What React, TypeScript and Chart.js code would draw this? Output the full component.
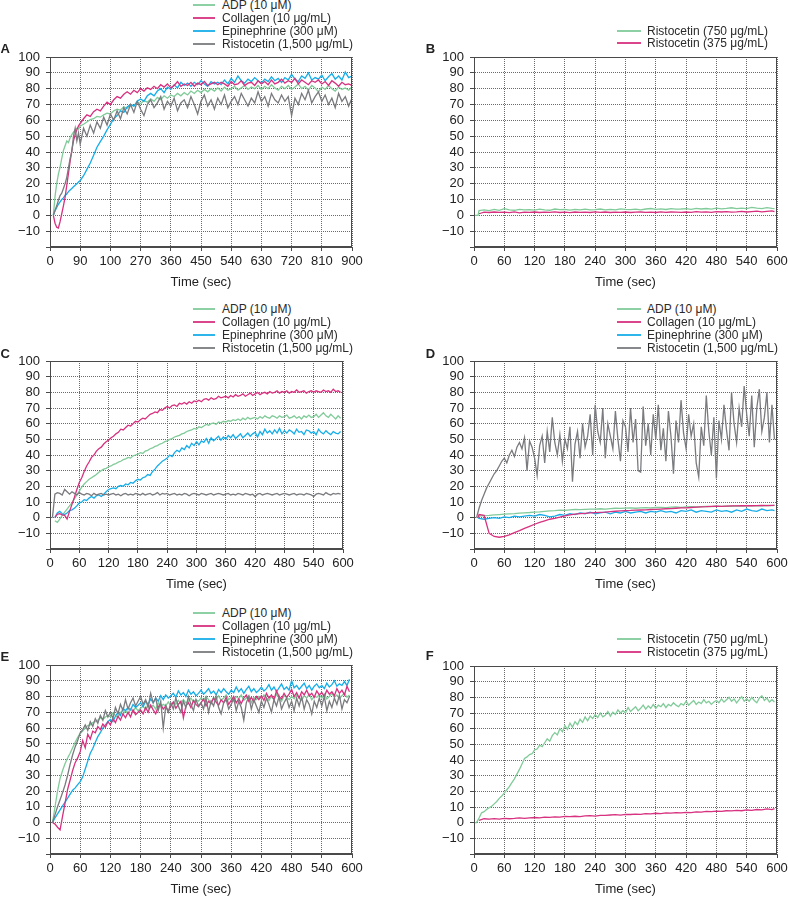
import React, { useEffect, useRef } from "react";
import { Chart, registerables } from "chart.js";

Chart.register(...registerables);

const FONT = "'Liberation Sans', Arial, Helvetica, sans-serif";

const GREEN = "#80cb99";
const MAGENTA = "#d7317f";
const BLUE = "#17ade8";
const GRAY = "#7a7b7f";

// ---------- time bases (seconds) ----------
const TIME_A = [10, 15, 20, 25, 30, 35, 40, 45, 50, 55, 60, 65, 70, 75, 80, 85, 90,
  100, 110, 120, 130, 140, 150, 160, 170, 180, 190,
  200, 210, 220, 230, 240, 250, 260, 270, 280, 290,
  300, 310, 320, 330, 340, 350, 360, 370, 380, 390,
  400, 410, 420, 430, 440, 450, 460, 470, 480, 490,
  500, 510, 520, 530, 540, 550, 560, 570, 580, 590,
  600, 610, 620, 630, 640, 650, 660, 670, 680, 690,
  700, 710, 720, 730, 740, 750, 760, 770, 780, 790,
  800, 810, 820, 830, 840, 850, 860, 870, 880, 890,
  900];

const TIME_5 = [0, 5, 10, 15, 20, 25, 30, 35, 40, 45, 50, 55,
  60, 65, 70, 75, 80, 85, 90, 95, 100, 105, 110, 115,
  120, 125, 130, 135, 140, 145, 150, 155, 160, 165, 170, 175,
  180, 185, 190, 195, 200, 205, 210, 215, 220, 225, 230, 235,
  240, 245, 250, 255, 260, 265, 270, 275, 280, 285, 290, 295,
  300, 305, 310, 315, 320, 325, 330, 335, 340, 345, 350, 355,
  360, 365, 370, 375, 380, 385, 390, 395, 400, 405, 410, 415,
  420, 425, 430, 435, 440, 445, 450, 455, 460, 465, 470, 475,
  480, 485, 490, 495, 500, 505, 510, 515, 520, 525, 530, 535,
  540, 545, 550, 555, 560, 565, 570, 575, 580, 585, 590, 595];

const TIME_10 = [0, 8, 10,
  20, 30, 40, 50, 60, 70, 80, 90, 100, 110,
  120, 130, 140, 150, 160, 170, 180, 190, 200, 210,
  220, 230, 240, 250, 260, 270, 280, 290, 300, 310,
  320, 330, 340, 350, 360, 370, 380, 390, 400, 410,
  420, 430, 440, 450, 460, 470, 480, 490, 500, 510,
  520, 530, 540, 550, 560, 570, 580, 590,
  595];

// ---------- tick labels ----------
const X_TICKS_A = [0, 90, 180, 270, 360, 450, 540, 630, 720, 810, 900];
const X_LABELS_A = ["0", "90", "100", "270", "360", "450", "540", "630", "720", "810", "900"];
const X_TICKS_600 = [0, 60, 120, 180, 240, 300, 360, 420, 480, 540, 600];
const X_LABELS_600 = ["0", "60", "120", "180", "240", "300", "360", "420", "480", "540", "600"];
const Y_TICKS = [-20, -10, 0, 10, 20, 30, 40, 50, 60, 70, 80, 90, 100];
const Y_LABELS = ["", "\u221210", "0", "10", "20", "30", "40", "50", "60", "70", "80", "90", "100"];

// ---------- series labels ----------
const LBL_ADP = "ADP (10 \u03bcM)";
const LBL_COL = "Collagen (10 \u03bcg/mL)";
const LBL_EPI = "Epinephrine (300 \u03bcM)";
const LBL_RIS = "Ristocetin (1,500 \u03bcg/mL)";
const LBL_R750 = "Ristocetin (750 \u03bcg/mL)";
const LBL_R375 = "Ristocetin (375 \u03bcg/mL)";

// ---------- Panel A (TIME_A) ----------
const A_ADP = [0, 12, 20, 26, 30.5, 36, 41, 44, 47, 46, 49, 51, 52.5, 54, 55, 54.5, 56.5,
  57.5, 59, 60.5, 61, 62.5, 62, 63.5, 64.5, 64, 66,
  67, 66.5, 68.5, 67.5, 70, 69, 71.5, 70.5, 72.5, 71.5,
  73.5, 72, 74.5, 73, 75.5, 74, 76, 75, 77, 75.5,
  77.5, 76, 78.5, 77, 79, 77.5, 79.5, 78, 80, 78.5,
  80.5, 78.5, 81, 79, 80, 81.5, 79, 80.5, 82, 79.5,
  81, 80, 82, 79.5, 81.5, 80, 82.5, 80.5, 79, 81.5,
  80, 82, 79.5, 81, 83, 80, 81.5, 79, 82, 80.5,
  78, 81, 79.5, 82, 80, 78.5, 81, 79.5, 80.5, 79,
  81];
const A_COL = [0, -5, -7.5, -8, -4, 1, 6, 11.5, 19, 26.5, 34, 41, 47, 51, 54, 56.5, 58,
  61, 63.5, 62.5, 65.5, 67, 66, 69, 71.5, 70, 73,
  75, 74, 76.5, 78, 76.5, 79, 77.5, 80, 78.5, 80.5,
  79.5, 81.5, 80, 82.5, 81, 83, 80.5, 82, 84.5, 81.5,
  83, 82, 84, 81.5, 83.5, 82.5, 84.5, 82, 83, 84,
  82.5, 84, 83, 81.5, 84.5, 82.5, 83, 85, 82, 83.5,
  84, 82, 85, 83, 84.5, 82.5, 85.5, 83, 84, 86,
  83.5, 85, 84, 86.5, 83, 85.5, 84, 82.5, 85, 84,
  85.5, 83, 84.5, 82, 85, 83.5, 81.5, 84, 82.5, 83,
  82];
const A_EPI = [0, 3, 5, 7, 8.5, 10, 11, 12.5, 13.5, 15, 16, 17, 18, 19, 20, 21, 22,
  25, 29, 33, 38, 43, 46.5, 50, 54, 57.5, 61,
  63, 66, 65, 68.5, 70, 69, 72, 73.5, 72, 75.5,
  77, 75.5, 78.5, 80, 77.5, 81, 79.5, 82.5, 80.5, 84,
  82, 83.5, 81.5, 84, 82.5, 85, 83, 81.5, 84.5, 83,
  84, 82.5, 85.5, 83, 86.5, 84, 88, 85, 83.5, 86,
  84.5, 87, 85, 83.5, 86, 84.5, 87.5, 85, 86.5, 84,
  87, 85.5, 89, 86, 84.5, 88, 86.5, 90, 85.5, 87,
  86, 88.5, 85, 87.5, 89.5, 86, 88, 85.5, 90.5, 87,
  88];
const A_RIS = [0, 3, 6, 9.5, 12.5, 14, 17, 20, 24, 30, 36, 40, 50, 55, 47, 52, 45,
  55, 50, 57, 52, 59, 55, 62, 57, 64, 60,
  66, 61, 68, 64, 70, 65, 72, 67, 63, 70,
  73, 68, 71, 75, 67, 72, 69, 74, 66, 71,
  73, 68, 75, 70, 64, 72, 76, 69, 73, 67,
  74, 70, 76, 68, 72, 75, 70, 77, 73, 69,
  74, 71, 78, 72, 75, 69, 77, 73, 71, 76,
  72, 75, 63, 74, 70, 77, 73, 79, 71, 75,
  78, 72, 76, 70, 74, 68, 77, 72, 75, 69,
  74];

// ---------- Panel B (TIME_10) ----------
const B_R750 = [0, 0, 3,
  3.5, 3, 3.8, 3.2, 4.2, 3.5, 3.2, 3.8, 3.4, 3.6,
  3.3, 3.9, 3.5, 3.2, 4, 3.6, 3.8, 3.3, 3.7, 3.5,
  3.9, 3.4, 3.6, 4, 3.5, 3.8, 3.4, 4.1, 3.7, 3.6,
  3.9, 3.5, 4, 4.3, 3.8, 4.1, 3.7, 4.2, 3.9, 4,
  4.2, 3.8, 4.4, 4, 4.3, 3.9, 4.5, 4.1, 4.4, 4.8,
  4.3, 4.6, 4.2, 5, 4.5, 4.3, 4.9, 4.4,
  4.2];
const B_R375 = [null, null, 1,
  2, 1.8, 2.1, 1.9, 2, 1.7, 2.2, 1.5, 2, 1.9,
  2.1, 1.8, 2, 1.9, 2.2, 1.8, 2, 1.7, 2.1, 1.9,
  2, 1.8, 2.2, 1.9, 2.1, 1.8, 2, 1.9, 2.1, 1.8,
  2, 2.1, 1.9, 2, 1.8, 2.2, 1.9, 2.1, 2, 1.9,
  2.1, 1.9, 2.3, 2, 2.2, 1.9, 2.4, 2.1, 2.3, 2,
  2.2, 2.5, 2.1, 2.4, 2.6, 2.2, 2.5, 2.8,
  2.3];

// ---------- Panel C (TIME_5) ----------
const C_ADP = [null, null, -2, -3, -1, 1.5, 3.5, 5.5, 7.5, 9.5, 12, 14.5,
  17, 19.5, 21.5, 23, 24.5, 25.5, 26.5, 27.5, 29, 30, 31, 31.5,
  32.5, 33, 34, 34.5, 35.5, 36, 37, 37.5, 38.5, 38, 39.5, 40,
  40.5, 41.5, 41, 42.5, 43, 44, 44.5, 45.5, 46, 47, 47.5, 48.5,
  49, 50, 50.5, 51.5, 52, 52.5, 53.5, 54, 55, 55.5, 56, 57,
  56.5, 58, 57.5, 58.5, 59.5, 59, 60, 60.5, 59.5, 61, 60.5, 61.5,
  61, 62, 61.5, 62.5, 62, 63, 62, 63.5, 62.5, 64, 63, 63.5,
  64, 63, 64.5, 63.5, 65, 64, 63.5, 65, 64.5, 63.5, 65, 64,
  64.5, 65.5, 63.5, 64, 65, 63.5, 64.5, 63, 65, 64, 65.5, 64,
  64.5, 66, 64, 65.5, 67, 65, 64, 66, 64.5, 63, 65, 63.5];
const C_COL = [null, null, 0, 2.2, 2.5, 1.8, 1.5, -0.8, 4, 8.5, 13, 18,
  22.5, 25.5, 29.5, 33, 35.5, 38.5, 40, 42.5, 44, 45, 47, 48.5,
  49.5, 51, 52, 53.5, 54.5, 56.5, 56, 57.5, 59, 58.5, 60, 61.5,
  61, 62.5, 63.5, 63, 64.5, 66, 66.5, 67.5, 67, 69, 68.5, 70,
  71, 70, 71.5, 72, 71, 73, 72.5, 73.5, 72.5, 74, 73, 74.5,
  74, 75, 74, 75.5, 76, 75, 76.5, 75.5, 76, 77.5, 76.5, 77,
  77.5, 76.5, 78, 77, 78.5, 77.5, 78, 79, 77.5, 78.5, 79.5, 78,
  79, 80, 78.5, 79.5, 80, 79, 80.5, 79.5, 80, 81, 79.5, 80.5,
  80, 81, 79.5, 80.5, 80, 81.5, 80, 80.5, 81, 79.5, 80.5, 81,
  80, 81, 80.5, 80, 81.5, 80.5, 81, 80, 82, 80.5, 81, 80];
const C_EPI = [null, null, 0, 3, 4, 2.5, 2, 3, 4.5, 5, 6, 7.5,
  9.5, 10, 11.5, 11, 12.5, 13.5, 12.5, 14, 14.5, 13.5, 15, 16.5,
  18, 18.5, 19, 18.5, 20, 20.5, 20, 21.5, 21, 22.5, 22, 23.5,
  24.5, 24, 25.5, 26, 27.5, 27, 29.5, 31, 33, 34.5, 36, 37,
  38, 40, 39, 41.5, 43, 42, 44.5, 43.5, 46, 44.5, 47.5, 46,
  48.5, 46.5, 49, 48, 50.5, 47.5, 51, 49, 50.5, 52, 49.5, 51.5,
  50, 52.5, 51, 53, 50.5, 52, 53.5, 51, 52.5, 54, 52, 53.5,
  54.5, 51.5, 55, 53, 56.5, 54, 55.5, 53.5, 56, 54, 57, 53.5,
  55.5, 54, 56, 55, 53.5, 56.5, 54.5, 55, 53, 56, 55.5, 54,
  55, 53, 56.5, 54.5, 53.5, 55.5, 54, 53, 55, 54, 53.5, 55];
const C_RIS = [null, 0, 15, 16, 15.5, 14.5, 18, 16.5, 15, 16.5, 15.5, 14.5,
  16, 15, 14.5, 15.5, 15, 14, 15.5, 14.5, 15, 15.5, 14.5, 15,
  14.5, 15, 15.5, 14.5, 15, 14, 15, 15.5, 14.5, 15, 14.5, 15.5,
  15, 14.5, 15.5, 14.5, 15, 15.5, 14.5, 15, 16, 14.5, 15.5, 15,
  15.5, 14.5, 15, 15.5, 14.5, 15, 14.5, 15.5, 15, 14, 15, 15.5,
  15, 14.5, 15.5, 15, 14.5, 15, 15.5, 14.5, 15, 15.5, 15, 14.5,
  15, 15.5, 14.5, 15, 14.5, 15.5, 15, 14.5, 15.5, 15, 14.5, 15,
  13.5, 15, 15.5, 14.5, 15, 15.5, 15, 14.5, 15, 15.5, 14.5, 15,
  15.5, 15, 14.5, 15, 15.5, 14.5, 15, 15, 14.5, 15.5, 15, 14.5,
  13.5, 15, 15.5, 15, 14.5, 16, 15, 14.5, 15.5, 15, 15.5, 15];

// ---------- Panel D ----------
const D_ADP = [null, 0, 1,
  1.3, 1.5, 1.8, 2, 2.2, 2.4, 2.6, 2.9, 3.1, 3.3,
  3.6, 3.7, 4, 4.3, 4.5, 4.8, 4.6, 5, 5.2, 5.1,
  5.3, 5.5, 5.4, 5.7, 5.5, 5.8, 6, 5.9, 6.1, 6.2,
  6, 6.3, 6.4, 6.2, 6.5, 6.6, 6.4, 6.7, 6.8, 6.6,
  6.9, 7, 6.8, 7.1, 7.2, 7, 7.3, 7.2, 7.4, 7.3,
  7.5, 7.4, 7.6, 7.5, 7.7, 7.6, 7.8, 7.7,
  7.8];
const D_COL = [null, 0, 2,
  1.5, -10, -12, -12.5, -12, -11, -9.5, -8.3, -6.8, -5.5,
  -4.2, -3, -2, -1, -0.5, 0.3, 1.2, 1.8, 2.3, 2.6,
  2.8, 3, 3.2, 3.4, 3.6, 3.9, 4.1, 4.3, 4.5, 4.6,
  4.8, 4.9, 5, 5.2, 5.3, 5.5, 5.7, 5.8, 6, 6.2,
  6.3, 6.5, 6.7, 6.9, 7, 7.2, 7.3, 7.2, 7.4, 7.5,
  7.5, 7.6, 7.7, 7.6, 7.7, 7.8, 7.7, 7.8,
  7.8];
const D_EPI = [null, 0, -0.5,
  -1, -0.5, 0, -0.5, 0.5, 0, 1, 0.5, 1, 1.5,
  1, 2, 1.5, 0.5, 1, 2, 1.5, 2.5, 2, 3,
  2.5, 3.5, 2.5, 3, 3.5, 2.5, 3.5, 3, 4, 3,
  3.5, 4, 3, 4, 3.5, 4.5, 3.5, 4, 3, 4.5,
  4, 5, 3.5, 4.5, 4, 3.5, 5, 4, 4.5, 3.5,
  5, 4, 5.5, 4.5, 4, 5.5, 4.5, 5,
  4.5];
const D_RIS = [null, 0, 6, 11, 15, 19, 22, 25, 28, 30, 33, 36,
  38, 35, 40, 43, 39, 45, 48, 44, 51, 30, 49, 45,
  38, 27, 46, 52, 35, 55, 42, 64, 48, 40, 53, 36,
  50, 44, 58, 23, 47, 55, 38, 60, 45, 52, 66, 40,
  72, 55, 48, 70, 38, 60, 52, 44, 68, 50, 36, 62,
  58, 42, 70, 48, 63, 30, 29, 71, 46, 60, 40, 66,
  50, 72, 43, 57, 36, 68, 52, 28, 62, 48, 75, 54,
  44, 66, 52, 60, 35, 26, 58, 46, 78, 55, 40, 64,
  25, 62, 50, 72, 56, 43, 80, 60, 48, 70, 58, 84,
  66, 52, 78, 45, 70, 82, 55, 64, 80, 48, 72, 50];

// ---------- Panel E (TIME_5) ----------
const E_ADP = [null, 0, 10, 20, 28, 33, 37.5, 41, 44, 47.5, 51, 54,
  56.5, 58, 60, 61.5, 62, 63.5, 64, 65, 66.5, 65.5, 67, 68,
  67, 69.5, 68, 66.5, 70, 68.5, 71, 69, 72, 70.5, 73, 71,
  72.5, 74, 71.5, 75, 73, 74.5, 72, 76, 73.5, 75, 74, 76.5,
  74, 76, 75, 77.5, 75.5, 78, 76, 77, 79, 76.5, 78, 77,
  79, 77.5, 80, 78, 76.5, 79.5, 78, 80.5, 77.5, 79, 81, 78,
  79.5, 77, 80, 78.5, 81, 77.5, 79, 80.5, 76, 79.5, 78, 80,
  78.5, 81, 79, 77.5, 80, 78, 81.5, 79, 77, 80.5, 79.5, 78,
  80, 78.5, 81, 79, 77.5, 80.5, 79, 81.5, 78, 80, 79.5, 81,
  79, 81.5, 78.5, 80, 82, 79.5, 81, 78.5, 80.5, 82, 79.5, 81];
const E_COL = [null, 0, -1, -3, -4.7, 4, 12.5, 21, 27, 33, 38, 41,
  45, 52, 47.5, 56, 53, 58, 57, 61, 59, 62.5, 60.5, 64,
  62, 66, 63.5, 67.5, 65, 69, 66.5, 70, 67, 71.5, 68.5, 70,
  71.5, 69, 73, 70, 74.5, 71.5, 69, 73.5, 75, 72, 74, 70.5,
  74, 76.5, 72.5, 75, 77, 66.5, 74, 76, 73, 77.5, 75, 73.5,
  76, 78.5, 74, 77, 75.5, 79, 76.5, 74.5, 78, 76, 79.5, 75,
  77.5, 80, 76, 78.5, 75.5, 79, 81, 77, 79.5, 76.5, 80, 78,
  80.5, 77.5, 82, 79, 81, 78, 83.5, 80, 78.5, 82, 79.5, 81.5,
  84.5, 80, 82.5, 79, 83, 81, 84, 80.5, 82, 79.5, 83.5, 81,
  82.5, 80, 84, 81.5, 83, 80.5, 85, 82, 84, 81, 86.5, 83];
const E_EPI = [null, 0, 3, 5.5, 8, 10.5, 13, 15.5, 18, 20.5, 22, 24,
  26, 29, 34, 39, 44, 47, 51, 54.5, 57, 60, 62, 64,
  65.5, 64, 67.5, 70, 68, 72.5, 71, 73, 71.5, 75, 73, 74.5,
  76, 73.5, 77, 75, 78.5, 76, 79, 77, 80.5, 78, 81, 79,
  80.5, 82, 79.5, 83.5, 81, 82.5, 80, 84, 81.5, 83, 80.5, 82,
  84, 81.5, 83, 85, 82, 83.5, 81, 84.5, 82.5, 85, 83, 81.5,
  84, 82.5, 86, 83, 85, 82, 84.5, 86.5, 83, 85, 82.5, 84,
  86, 83.5, 85, 87.5, 84, 86, 83, 85.5, 88, 84.5, 86, 84,
  90, 85.5, 87, 84.5, 86.5, 88.5, 85, 87, 84, 86.5, 88, 85.5,
  87, 85, 88.5, 86, 87.5, 90, 86.5, 88, 87, 89.5, 87, 91];
const E_RIS = [null, 0, 5, 10, 14.5, 19, 24, 30, 37, 43, 48, 52,
  57, 59, 62, 58.5, 64, 61, 66, 63, 68, 65, 71, 67,
  70, 66, 73, 69, 75, 71, 78, 72, 76, 79, 74, 77,
  80, 75, 78, 73, 82, 76, 79, 71, 77, 60, 74, 70,
  76, 72, 79, 74, 70, 77, 73, 80, 75, 71, 78, 74,
  76, 72, 79, 70, 77, 74, 80, 73, 69, 76, 78, 72,
  75, 79, 71, 77, 73, 65, 76, 80, 72, 78, 74, 70,
  77, 73, 79, 75, 70, 78, 74, 80, 72, 76, 79, 73,
  77, 71, 79, 74, 80, 72, 78, 75, 69, 77, 73, 79,
  74, 80, 71, 77, 73, 79, 75, 81, 72, 78, 76, 80];

// ---------- Panel F ----------
const F_R750 = [0, 0, 3, 6.3, 7, 8.4, 9.5, 10.5, 12, 13.5, 15.5, 17,
  19, 21, 23, 25.5, 28, 31, 34, 37.5, 41, 42, 43.5, 44,
  46.5, 47, 49.5, 48.5, 51, 53.5, 52, 55.5, 57.5, 56, 60, 58,
  62, 59.5, 63.5, 61, 64.5, 62.5, 66, 64, 67.5, 65, 68, 66.5,
  69, 67, 70, 67.5, 68.5, 71, 68, 70.5, 69, 72, 70, 71.5,
  70, 73.5, 71, 72.5, 74, 71.5, 73, 75, 72.5, 74.5, 73, 75.5,
  73, 75, 74, 76, 73.5, 75.5, 74.5, 76.5, 75, 74, 76, 75,
  77.5, 75, 76.5, 78, 75.5, 77, 76, 78.5, 76.5, 77.5, 75.5, 77,
  78, 76.5, 79, 77, 78.5, 80, 77.5, 79, 76.5, 78.5, 80.5, 77.5,
  79, 77.5, 80, 78, 76.5, 79.5, 81, 78, 79.5, 77, 78.5, 77];
const F_R375 = [null, null, 1.5,
  2.5, 2.2, 2.6, 2.3, 2.8, 2.5, 2.7, 3, 2.8, 3.1,
  3.3, 3.1, 3.5, 3.4, 3.7, 3.5, 4, 3.8, 4.1, 3.9,
  4.3, 4.5, 4.2, 4.7, 4.6, 4.9, 5.1, 4.8, 5.3, 5.2,
  5.5, 5.3, 5.8, 5.6, 6, 5.8, 6.2, 6.1, 6.4, 6.2,
  6.6, 6.4, 6.9, 6.7, 7.2, 7, 7.4, 7.2, 7.6, 7.5,
  7.8, 7.6, 8.1, 7.9, 8.4, 8.2, 8.8, 8.3,
  9];

// ---------- layout constants ----------
const PAD_L = 50;
const PAD_T = 10;
const PAD_R = 24;
const X_AXIS_H = 46;

type Series = {
  label: string;
  color: string;
  times: number[];
  values: (number | null)[];
  order: number;
};

type PanelCfg = {
  letter: string;
  L: number; T: number; R: number; B: number;
  xTicks: number[];
  xLabels: string[];
  letterX: number;
  letterY: number;
  legendLineX: number;
  legendLineW: number;
  legendTextX: number;
  legendRows: number[];
  series: Series[];
};

const FOUR = (tA: number[], adp: any[], col: any[], epi: any[], ris: any[]): Series[] => [
  { label: LBL_ADP, color: GREEN, times: tA, values: adp, order: 4 },
  { label: LBL_COL, color: MAGENTA, times: tA, values: col, order: 2 },
  { label: LBL_EPI, color: BLUE, times: tA, values: epi, order: 3 },
  { label: LBL_RIS, color: GRAY, times: tA, values: ris, order: 1 },
];

const PANELS: PanelCfg[] = [
  {
    letter: "A", L: 50, T: 57, R: 352, B: 247,
    xTicks: X_TICKS_A, xLabels: X_LABELS_A,
    letterX: 0.5, letterY: 48.7,
    legendLineX: 193, legendLineW: 22, legendTextX: 222,
    legendRows: [4.5, 17.7, 31, 44.2],
    series: FOUR(TIME_A, A_ADP, A_COL, A_EPI, A_RIS),
  },
  {
    letter: "B", L: 474, T: 57, R: 777, B: 247,
    xTicks: X_TICKS_600, xLabels: X_LABELS_600,
    letterX: 425.7, letterY: 48.5,
    legendLineX: 617, legendLineW: 24, legendTextX: 647,
    legendRows: [31, 43.3],
    series: [
      { label: LBL_R750, color: GREEN, times: TIME_10, values: B_R750, order: 2 },
      { label: LBL_R375, color: MAGENTA, times: TIME_10, values: B_R375, order: 1 },
    ],
  },
  {
    letter: "C", L: 50, T: 361, R: 343, B: 549,
    xTicks: X_TICKS_600, xLabels: X_LABELS_600,
    letterX: 0.5, letterY: 353,
    legendLineX: 193, legendLineW: 22, legendTextX: 222,
    legendRows: [309.3, 322.3, 335, 348.3],
    series: FOUR(TIME_5, C_ADP, C_COL, C_EPI, C_RIS),
  },
  {
    letter: "D", L: 474, T: 361, R: 777, B: 549,
    xTicks: X_TICKS_600, xLabels: X_LABELS_600,
    letterX: 425.7, letterY: 353.5,
    legendLineX: 617, legendLineW: 24, legendTextX: 647,
    legendRows: [309.3, 322.3, 335, 348.3],
    series: [
      { label: LBL_ADP, color: GREEN, times: TIME_10, values: D_ADP, order: 4 },
      { label: LBL_COL, color: MAGENTA, times: TIME_10, values: D_COL, order: 2 },
      { label: LBL_EPI, color: BLUE, times: TIME_10, values: D_EPI, order: 3 },
      { label: LBL_RIS, color: GRAY, times: TIME_5, values: D_RIS, order: 1 },
    ],
  },
  {
    letter: "E", L: 50, T: 665, R: 352, B: 854,
    xTicks: X_TICKS_600, xLabels: X_LABELS_600,
    letterX: 0.5, letterY: 656.2,
    legendLineX: 193, legendLineW: 22, legendTextX: 222,
    legendRows: [612.7, 625.7, 638.7, 651.7],
    series: FOUR(TIME_5, E_ADP, E_COL, E_EPI, E_RIS),
  },
  {
    letter: "F", L: 474, T: 666, R: 777, B: 854,
    xTicks: X_TICKS_600, xLabels: X_LABELS_600,
    letterX: 425.7, letterY: 655.7,
    legendLineX: 617, legendLineW: 24, legendTextX: 647,
    legendRows: [639, 651.7],
    series: [
      { label: LBL_R750, color: GREEN, times: TIME_5, values: F_R750, order: 2 },
      { label: LBL_R375, color: MAGENTA, times: TIME_10, values: F_R375, order: 1 },
    ],
  },
];

function zip(times: number[], values: (number | null)[]) {
  const n = Math.min(times.length, values.length);
  const out: { x: number; y: number | null }[] = [];
  for (let i = 0; i < n; i++) out.push({ x: times[i], y: values[i] });
  return out;
}

const framePlugin = {
  id: "frame",
  afterDatasetsDraw(chart: any) {
    const { ctx, chartArea } = chart;
    const l = Math.round(chartArea.left) + 0.5;
    const t = Math.round(chartArea.top) + 0.5;
    const r = Math.round(chartArea.right) - 0.5;
    const b = Math.round(chartArea.bottom) - 0.5;
    ctx.save();
    ctx.strokeStyle = "#4a4a4a";
    ctx.lineWidth = 1;
    ctx.setLineDash([]);
    ctx.strokeRect(l, t, r - l, b - t);
    ctx.restore();
  },
};

function Panel({ cfg }: { cfg: PanelCfg }) {
  const ref = useRef<HTMLCanvasElement | null>(null);
  const w = cfg.R - cfg.L + PAD_L + PAD_R;
  const h = cfg.B - cfg.T + PAD_T + X_AXIS_H;

  useEffect(() => {
    if (!ref.current) return;
    const chart = new Chart(ref.current, {
      type: "line",
      data: {
        datasets: cfg.series.map((s) => ({
          label: s.label,
          data: zip(s.times, s.values),
          borderColor: s.color,
          backgroundColor: s.color,
          borderWidth: 1.3,
          pointRadius: 0,
          tension: 0,
          fill: false,
          spanGaps: false,
          order: s.order,
        })),
      } as any,
      options: {
        animation: false,
        responsive: false,
        devicePixelRatio: 1,
        events: [],
        layout: { padding: { left: 0, top: PAD_T, right: PAD_R, bottom: 0 } },
        plugins: {
          legend: { display: false },
          tooltip: { enabled: false },
          title: { display: false },
        },
        scales: {
          x: {
            type: "linear",
            min: 0,
            max: cfg.xTicks[cfg.xTicks.length - 1],
            afterBuildTicks: (scale: any) => {
              scale.ticks = cfg.xTicks.map((v) => ({ value: v }));
            },
            afterFit: (scale: any) => {
              scale.height = X_AXIS_H;
              scale.paddingLeft = 0;
              scale.paddingRight = 0;
            },
            ticks: {
              autoSkip: false,
              maxRotation: 0,
              padding: 3,
              color: "#222",
              font: { family: FONT, size: 13 },
              callback: (_v: any, i: number) => cfg.xLabels[i],
            },
            grid: {
              color: "#6a6a6a",
              lineWidth: 1,
              drawTicks: true,
              tickLength: 4,
              tickColor: "#4a4a4a",
              tickBorderDash: [],
            },
            border: { display: true, color: "#4a4a4a", width: 1, dash: [1, 1] },
            title: {
              display: true,
              text: "Time (sec)",
              color: "#222",
              font: { family: FONT, size: 13 },
              padding: { top: 0, bottom: 2.5 },
            },
          },
          y: {
            type: "linear",
            min: -20,
            max: 100,
            afterBuildTicks: (scale: any) => {
              scale.ticks = Y_TICKS.map((v) => ({ value: v }));
            },
            afterFit: (scale: any) => {
              scale.width = PAD_L;
              scale.paddingTop = 0;
              scale.paddingBottom = 0;
            },
            ticks: {
              autoSkip: false,
              padding: 6,
              color: "#222",
              font: { family: FONT, size: 13 },
              callback: (_v: any, i: number) => Y_LABELS[i],
            },
            grid: {
              color: "#6a6a6a",
              lineWidth: 1,
              drawTicks: true,
              tickLength: 4,
              tickColor: "#4a4a4a",
              tickBorderDash: [],
            },
            border: { display: true, color: "#4a4a4a", width: 1, dash: [1, 1] },
          },
        },
      } as any,
      plugins: [framePlugin],
    });
    return () => chart.destroy();
  }, [cfg]);

  const LEG = 12;
  const LET = 13;
  return (
    <>
      <canvas
        ref={ref}
        width={w}
        height={h}
        style={{ position: "absolute", left: cfg.L - PAD_L, top: cfg.T - PAD_T, width: w, height: h }}
      />
      <div
        style={{
          position: "absolute",
          left: cfg.letterX,
          top: cfg.letterY - 0.4885 * LET,
          fontFamily: FONT,
          fontWeight: "bold",
          fontSize: LET,
          lineHeight: LET + "px",
          color: "#222",
          whiteSpace: "nowrap",
        }}
      >
        {cfg.letter}
      </div>
      {cfg.series.map((s, i) => (
        <React.Fragment key={s.label}>
          <div
            style={{
              position: "absolute",
              left: cfg.legendLineX,
              top: Math.round(cfg.legendRows[i] - 1),
              width: cfg.legendLineW,
              height: 2,
              background: s.color,
              opacity: 0.9,
            }}
          />
          <div
            style={{
              position: "absolute",
              left: cfg.legendTextX,
              top: cfg.legendRows[i] - 0.4885 * LEG,
              fontFamily: FONT,
              fontSize: LEG,
              lineHeight: LEG + "px",
              color: "#2a2a2a",
              whiteSpace: "nowrap",
            }}
          >
            {s.label}
          </div>
        </React.Fragment>
      ))}
    </>
  );
}

export default function App() {
  return (
    <div
      style={{
        position: "absolute",
        left: 0,
        top: 0,
        width: 788,
        height: 897,
        background: "#fff",
        overflow: "hidden",
      }}
    >
      {PANELS.map((p) => (
        <Panel key={p.letter} cfg={p} />
      ))}
    </div>
  );
}
